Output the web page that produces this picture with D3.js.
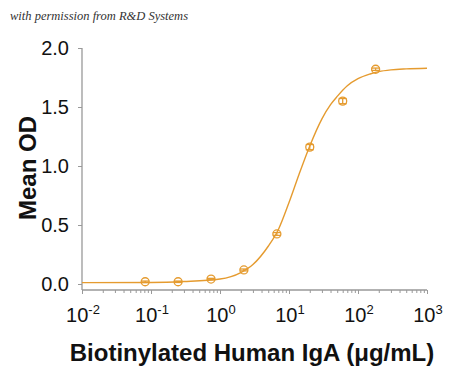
<!DOCTYPE html>
<html>
<head>
<meta charset="utf-8">
<script src="https://cdn.jsdelivr.net/npm/d3@7"></script>
<style>
  body { margin: 0; background: #fff; }
  svg { display: block; }
</style>
</head>
<body>
<div id="chart"></div>
<script>
// measured points (concentration in ug/mL, mean OD, error)
var conc = [0.0823, 0.247, 0.741, 2.22, 6.67, 20, 60, 180];
var od = [0.019, 0.019, 0.042, 0.119, 0.424, 1.16, 1.55, 1.82];
var err = [0.006, 0.006, 0.006, 0.008, 0.012, 0.022, 0.022, 0.01];

// fitted curve
var curveX = [0.01, 0.1, 0.3, 1, 2, 3, 5, 7, 10, 14, 20, 30, 40, 50, 70, 100, 150, 200, 300, 500, 1000];
var curveY = [0.012, 0.013, 0.021, 0.042, 0.097, 0.165, 0.32, 0.46, 0.69, 0.93, 1.17, 1.40, 1.52, 1.59, 1.68, 1.74, 1.78, 1.80, 1.815, 1.823, 1.828];

var yTicks = [0, 0.5, 1.0, 1.5, 2.0];
var xExponents = [-2, -1, 0, 1, 2, 3];

var svgWidth = 450;
var svgHeight = 368;
var color = "#E59B2F";
var axisColor = "#999";

var svg = d3.select("#chart")
  .append("svg")
  .attr("width", svgWidth)
  .attr("height", svgHeight);

var xScale = d3.scaleLog()
  .domain([1e-2, 1e3])
  .range([82, 427]);

var yScale = d3.scaleLinear()
  .domain([0, 2])
  .range([284, 48]);

var axisY = 290;

// watermark
svg.append("text")
  .attr("x", 10)
  .attr("y", 20)
  .style("font-family", "'Liberation Serif', serif")
  .style("font-style", "italic")
  .style("font-size", "12.5px")
  .style("fill", "#333")
  .text("with permission from R&D Systems");

// y axis
var leftAxis = d3.axisLeft(yScale)
  .tickValues(yTicks)
  .tickFormat(d3.format(".1f"))
  .tickSize(4)
  .tickPadding(9);

var yg = svg.append("g")
  .attr("transform", "translate(82,0)")
  .call(leftAxis);
yg.select(".domain").remove();
yg.selectAll("line").attr("stroke", axisColor);
yg.selectAll("text")
  .style("font-family", "'Liberation Sans', Arial, sans-serif")
  .style("font-size", "20px")
  .style("fill", "#111");
yg.append("line")
  .attr("x1", 0).attr("x2", 0)
  .attr("y1", yScale(2)).attr("y2", axisY)
  .attr("stroke", axisColor)
  .attr("stroke-width", 1.3);

// x axis: minor ticks
var minor = [];
xExponents.slice(0, -1).forEach(function(e) {
  for (var m = 2; m <= 9; m++) minor.push(m * Math.pow(10, e));
});

var xg = svg.append("g")
  .attr("transform", `translate(0, ${axisY})`);

xg.call(d3.axisBottom(xScale)
  .tickValues(minor)
  .tickSize(3)
  .tickFormat(""));
xg.select(".domain").remove();

var xgMajor = svg.append("g")
  .attr("transform", `translate(0, ${axisY})`)
  .call(d3.axisBottom(xScale)
    .tickValues(xExponents.map(e => Math.pow(10, e)))
    .tickSize(4)
    .tickFormat(""));
xgMajor.select(".domain")
  .attr("stroke", axisColor)
  .attr("stroke-width", 1.3)
  .attr("d", `M${xScale(1e-2)},0H${xScale(1e3)}`);
svg.selectAll(".tick line").attr("stroke", axisColor);

// x tick labels with superscripts
var xLabels = svg.append("g")
  .selectAll("text")
  .data(xExponents)
  .enter()
  .append("text")
  .attr("x", d => xScale(Math.pow(10, d)) + 1)
  .attr("y", 322)
  .attr("text-anchor", "middle")
  .style("font-family", "'Liberation Sans', Arial, sans-serif")
  .style("font-size", "20px")
  .style("fill", "#111");
xLabels.append("tspan").text("10");
xLabels.append("tspan")
  .attr("dy", -8)
  .style("font-size", "13px")
  .text(d => d);

// axis titles
svg.append("text")
  .attr("x", 252)
  .attr("y", 361)
  .attr("text-anchor", "middle")
  .style("font-family", "'Liberation Sans', Arial, sans-serif")
  .style("font-weight", "bold")
  .style("font-size", "24px")
  .style("fill", "#111")
  .text("Biotinylated Human IgA (\u03BCg/mL)");

svg.append("text")
  .attr("transform", "translate(36,168) rotate(-90)")
  .attr("text-anchor", "middle")
  .style("font-family", "'Liberation Sans', Arial, sans-serif")
  .style("font-weight", "bold")
  .style("font-size", "24px")
  .style("fill", "#111")
  .text("Mean OD");

// fitted curve
var line = d3.line()
  .x(d => xScale(d[0]))
  .y(d => yScale(d[1]))
  .curve(d3.curveMonotoneX);

svg.append("path")
  .datum(curveX.map((c, i) => [c, curveY[i]]))
  .attr("d", line)
  .attr("fill", "none")
  .attr("stroke", color)
  .attr("stroke-width", 1.4);

// points with error bars
var data = conc.map((c, i) => ({ c: c, od: od[i], e: err[i] }));
var pts = svg.append("g")
  .selectAll("g")
  .data(data)
  .enter()
  .append("g")
  .attr("stroke", color)
  .attr("fill", "none")
  .attr("stroke-width", 1.3);

pts.append("line")
  .attr("x1", d => xScale(d.c)).attr("x2", d => xScale(d.c))
  .attr("y1", d => yScale(d.od + d.e)).attr("y2", d => yScale(d.od - d.e));
pts.append("line")
  .attr("x1", d => xScale(d.c) - 4).attr("x2", d => xScale(d.c) + 4)
  .attr("y1", d => yScale(d.od + d.e)).attr("y2", d => yScale(d.od + d.e));
pts.append("line")
  .attr("x1", d => xScale(d.c) - 4).attr("x2", d => xScale(d.c) + 4)
  .attr("y1", d => yScale(d.od - d.e)).attr("y2", d => yScale(d.od - d.e));
pts.append("circle")
  .attr("cx", d => xScale(d.c))
  .attr("cy", d => yScale(d.od))
  .attr("r", 4);
</script>
</body>
</html>
